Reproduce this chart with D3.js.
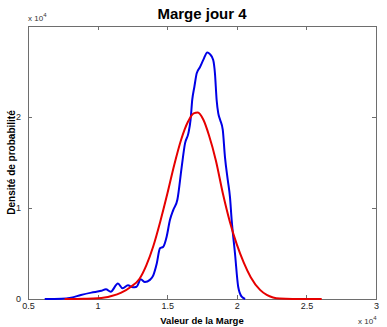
<!DOCTYPE html>
<html>
<head>
<meta charset="utf-8">
<script src="https://cdn.jsdelivr.net/npm/d3@7"></script>
<style>
  html, body { margin: 0; padding: 0; background: #fff; }
  svg { display: block; font-family: "Liberation Sans", Arial, sans-serif; }
</style>
</head>
<body>
<svg id="chart" width="387" height="327"></svg>
<script>
// Margin values (units of 1e4) and probability density (units of 1e-4)
const empiricalX = [0.62, 0.74, 0.81, 0.88, 0.955, 1.027, 1.06, 1.094, 1.146, 1.18, 1.218, 1.254, 1.28, 1.31, 1.34, 1.376, 1.40, 1.425, 1.448, 1.472, 1.496, 1.52, 1.544, 1.573, 1.604, 1.628, 1.652, 1.668, 1.68, 1.695, 1.712, 1.736, 1.76, 1.788, 1.807, 1.83, 1.843, 1.855, 1.867, 1.88, 1.899, 1.915, 1.935, 1.951, 1.963, 1.987, 2.01, 2.035, 2.06];
const empiricalY = [0, 0.003, 0.015, 0.044, 0.07, 0.09, 0.107, 0.08, 0.17, 0.117, 0.15, 0.128, 0.135, 0.216, 0.187, 0.21, 0.26, 0.39, 0.557, 0.575, 0.685, 0.87, 0.98, 1.09, 1.45, 1.71, 1.82, 1.97, 2.19, 2.33, 2.48, 2.55, 2.63, 2.71, 2.69, 2.63, 2.48, 2.19, 2.04, 1.97, 1.86, 1.56, 1.31, 1.12, 0.87, 0.5, 0.135, 0.025, 0];

const normalX = [0.763, 0.9, 1.0, 1.05, 1.1, 1.17, 1.24, 1.3, 1.35, 1.4, 1.45, 1.5, 1.55, 1.6, 1.65, 1.69, 1.72, 1.76, 1.8, 1.85, 1.9, 1.95, 2.0, 2.05, 2.1, 2.167, 2.215, 2.26, 2.31, 2.4, 2.61];
const normalY = [0, 0.003, 0.008, 0.016, 0.033, 0.07, 0.135, 0.22, 0.37, 0.58, 0.85, 1.15, 1.47, 1.75, 1.95, 2.04, 2.05, 1.97, 1.8, 1.52, 1.16, 0.85, 0.6, 0.4, 0.24, 0.1, 0.045, 0.017, 0.005, 0.001, 0];

const xTicks = [0.5, 1, 1.5, 2, 2.5, 3];
const yTicks = [0, 1, 2];

const svg = d3.select("#chart");
const plotLeft = 28, plotRight = 376, plotTop = 26, plotBottom = 299;

const x = d3.scaleLinear().domain([0.5, 3]).range([plotLeft, plotRight]);
const y = d3.scaleLinear().domain([0, 3]).range([plotBottom, plotTop]);

const axisColor = "#6e6e6e";
const tickLen = 4;

// Frame
svg.append("rect")
  .attr("x", plotLeft).attr("y", plotTop)
  .attr("width", plotRight - plotLeft).attr("height", plotBottom - plotTop)
  .attr("fill", "none").attr("stroke", axisColor).attr("stroke-width", 1)
  .attr("shape-rendering", "crispEdges");

// Axes with inward ticks
const xAxisB = d3.axisBottom(x).tickValues(xTicks).tickSize(-tickLen).tickPadding(4).tickFormat(d3.format("~g"));
const xAxisT = d3.axisTop(x).tickValues(xTicks).tickSize(-tickLen).tickFormat("");
const yAxisL = d3.axisLeft(y).tickValues(yTicks).tickSize(-tickLen).tickPadding(7).tickFormat(d3.format("d"));
const yAxisR = d3.axisRight(y).tickValues(yTicks).tickSize(-tickLen).tickFormat("");

function styleAxis(g) {
  g.select(".domain").remove();
  g.selectAll(".tick line").attr("stroke", axisColor).attr("shape-rendering", "crispEdges");
  g.selectAll(".tick text").attr("fill", "#222").style("font-size", "9px")
    .style("font-family", "'Liberation Sans', Arial, sans-serif");
}

svg.append("g").attr("transform", `translate(0,${plotBottom})`).call(xAxisB).call(styleAxis);
svg.append("g").attr("transform", `translate(0,${plotTop})`).call(xAxisT).call(styleAxis);
svg.append("g").attr("transform", `translate(${plotLeft},0)`).call(yAxisL).call(styleAxis);
svg.append("g").attr("transform", `translate(${plotRight},0)`).call(yAxisR).call(styleAxis);

// Curves
const line = d3.line().x(d => x(d[0])).y(d => y(d[1])).curve(d3.curveMonotoneX);

const empirical = empiricalX.map((v, i) => [v, empiricalY[i]]);
const normal = normalX.map((v, i) => [v, normalY[i]]);

svg.append("path").datum(empirical)
  .attr("d", line).attr("fill", "none")
  .attr("stroke", "#0000e6").attr("stroke-width", 2).attr("stroke-linejoin", "round");

svg.append("path").datum(normal)
  .attr("d", line).attr("fill", "none")
  .attr("stroke", "#e60000").attr("stroke-width", 2).attr("stroke-linejoin", "round");

// Exponent labels
function exponentLabel(xp, yp) {
  const t = svg.append("text").attr("x", xp).attr("y", yp)
    .attr("fill", "#333").style("font-size", "8px");
  t.append("tspan").text("x 10");
  t.append("tspan").attr("dy", -4).style("font-size", "6px").text("4");
}
exponentLabel(28, 21);
exponentLabel(358, 324);

// Title and axis labels
svg.append("text").attr("x", 202).attr("y", 19).attr("text-anchor", "middle")
  .style("font-size", "15px").style("font-weight", "bold").attr("fill", "#000")
  .text("Marge jour 4");

svg.append("text").attr("x", 202).attr("y", 324).attr("text-anchor", "middle")
  .style("font-size", "9.5px").style("font-weight", "bold").attr("fill", "#000")
  .text("Valeur de la Marge");

svg.append("text").attr("transform", `translate(15,${(plotTop + plotBottom) / 2}) rotate(-90)`)
  .attr("text-anchor", "middle")
  .style("font-size", "10px").style("font-weight", "bold").attr("fill", "#000")
  .text("Densité de probabilité");
</script>
</body>
</html>
